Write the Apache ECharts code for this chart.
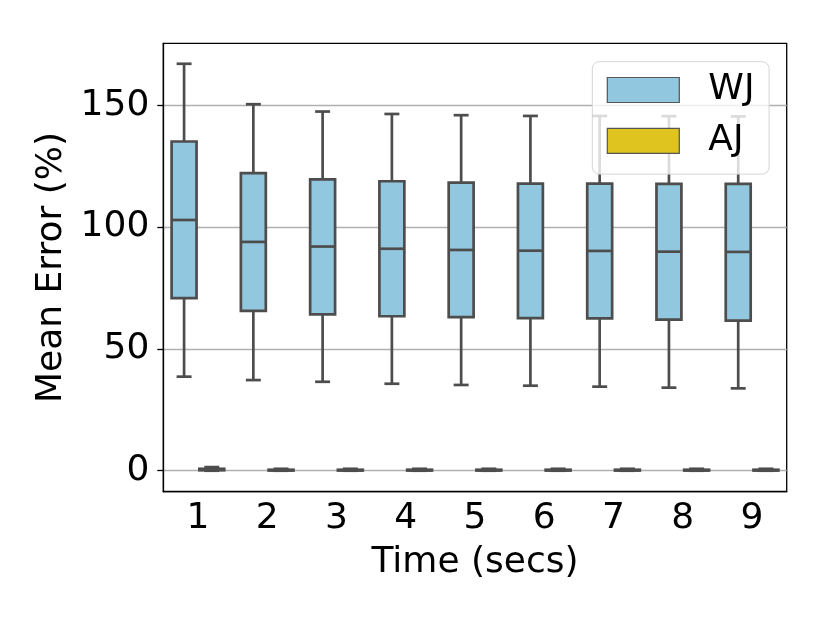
<!DOCTYPE html>
<html>
<head>
<meta charset="utf-8">
<script src="https://cdn.jsdelivr.net/npm/echarts@6/dist/echarts.min.js"></script>
<style>
  html, body { margin: 0; padding: 0; background: #fff; }
  #chart { width: 830px; height: 623px; }
</style>
</head>
<body>
<div id="chart"></div>
<script>
var categories = ['1', '2', '3', '4', '5', '6', '7', '8', '9'];
var yTicks = [0, 50, 100, 150];

// [min, Q1, median, Q3, max] per time step
var wjBoxes = [
    [38.6, 70.8, 102.9, 135.1, 167.0],
    [37.2, 65.6, 93.9, 122.1, 150.4],
    [36.5, 64.2, 92.0, 119.6, 147.4],
    [35.7, 63.4, 91.1, 118.8, 146.4],
    [35.2, 63.0, 90.6, 118.2, 145.9],
    [34.9, 62.6, 90.3, 117.8, 145.6],
    [34.5, 62.5, 90.2, 117.8, 145.6],
    [34.1, 62.0, 89.9, 117.7, 145.5],
    [33.8, 61.6, 89.8, 117.7, 145.4]
];
var ajBoxes = [
    [0.0, 0.2, 0.5, 0.8, 1.5],
    [0.0, 0.1, 0.2, 0.4, 0.8],
    [0.0, 0.1, 0.2, 0.4, 0.8],
    [0.0, 0.1, 0.2, 0.4, 0.8],
    [0.0, 0.1, 0.2, 0.4, 0.8],
    [0.0, 0.1, 0.2, 0.4, 0.8],
    [0.0, 0.1, 0.2, 0.4, 0.8],
    [0.0, 0.1, 0.2, 0.4, 0.8],
    [0.0, 0.1, 0.2, 0.4, 0.8]
];

var wjColor = '#92c8df';
var ajColor = '#dfc31f';
var lineColor = '#4d4d4d';
var font = 'DejaVu Sans';

function toRows(boxes) {
    return boxes.map(function (b, i) {
        return [i].concat(b);
    });
}

function boxRenderer(shift, fill) {
    return function (params, api) {
        var band = api.size([1, 0])[0];
        var cx = api.coord([api.value(0), 0])[0] + shift * band;
        var half = band * 0.18;
        var cap = half * 0.6;
        var y = [1, 2, 3, 4, 5].map(function (i) {
            return api.coord([api.value(0), api.value(i)])[1];
        });
        var st = {stroke: lineColor, lineWidth: 2.7};
        return {
            type: 'group',
            children: [
                {type: 'line', shape: {x1: cx, y1: y[0], x2: cx, y2: y[1]}, style: st},
                {type: 'line', shape: {x1: cx, y1: y[3], x2: cx, y2: y[4]}, style: st},
                {type: 'line', shape: {x1: cx - cap, y1: y[0], x2: cx + cap, y2: y[0]}, style: st},
                {type: 'line', shape: {x1: cx - cap, y1: y[4], x2: cx + cap, y2: y[4]}, style: st},
                {
                    type: 'rect',
                    shape: {x: cx - half, y: y[3], width: half * 2, height: y[1] - y[3]},
                    style: {fill: fill, stroke: lineColor, lineWidth: 2.7}
                },
                {type: 'line', shape: {x1: cx - half, y1: y[2], x2: cx + half, y2: y[2]}, style: st}
            ]
        };
    };
}

var chart = echarts.init(document.getElementById('chart'));
var option = {
    animation: false,
    textStyle: {fontFamily: font},
    grid: {
        left: 163.3, right: 43.3, top: 43.3, bottom: 131.3,
        show: true, borderColor: '#000', borderWidth: 1.3
    },
    legend: {
        orient: 'vertical',
        left: 592.3,
        top: 61.7,
        padding: [10.3, 14.6, 15.3, 14.4],
        itemWidth: 72,
        itemHeight: 25,
        itemGap: 14.8,
        backgroundColor: 'rgba(255,255,255,0.8)',
        borderColor: '#d4d4d4',
        borderWidth: 1,
        borderRadius: 7,
        textStyle: {fontFamily: font, fontSize: 36, color: '#000', padding: [0, 0, 0, 24]},
        data: [
            {name: 'WJ', icon: 'rect', itemStyle: {color: wjColor, borderColor: '#555', borderWidth: 1.2}},
            {name: 'AJ', icon: 'rect', itemStyle: {color: ajColor, borderColor: '#555', borderWidth: 1.2}}
        ]
    },
    xAxis: {
        type: 'category',
        data: categories,
        name: 'Time (secs)',
        nameLocation: 'middle',
        nameGap: 53,
        nameTextStyle: {fontFamily: font, fontSize: 36, color: '#000'},
        axisLine: {onZero: false, lineStyle: {color: '#000', width: 1.3}},
        axisTick: {alignWithLabel: true, length: 6, lineStyle: {color: '#000', width: 1.3}},
        axisLabel: {fontFamily: font, fontSize: 36, color: '#000', margin: 9},
        splitLine: {show: false}
    },
    yAxis: {
        type: 'value',
        min: -8.6,
        max: 175.4,
        name: 'Mean Error (%)',
        nameLocation: 'middle',
        nameGap: 84,
        nameTextStyle: {fontFamily: font, fontSize: 36, color: '#000'},
        axisLine: {show: true, onZero: false, lineStyle: {color: '#000', width: 1.3}},
        axisTick: {show: true, length: 6, customValues: yTicks, lineStyle: {color: '#000', width: 1.3}},
        axisLabel: {fontFamily: font, fontSize: 36, color: '#000', margin: 14, customValues: yTicks},
        splitLine: {show: true, lineStyle: {color: '#b0b0b0', width: 1.3}}
    },
    series: [
        {
            name: 'WJ',
            type: 'custom',
            itemStyle: {color: wjColor},
            renderItem: boxRenderer(-0.2, wjColor),
            encode: {x: 0, y: [1, 2, 3, 4, 5]},
            data: toRows(wjBoxes)
        },
        {
            name: 'AJ',
            type: 'custom',
            itemStyle: {color: ajColor},
            renderItem: boxRenderer(0.2, ajColor),
            encode: {x: 0, y: [1, 2, 3, 4, 5]},
            data: toRows(ajBoxes)
        }
    ]
};
chart.setOption(option);
</script>
</body>
</html>
